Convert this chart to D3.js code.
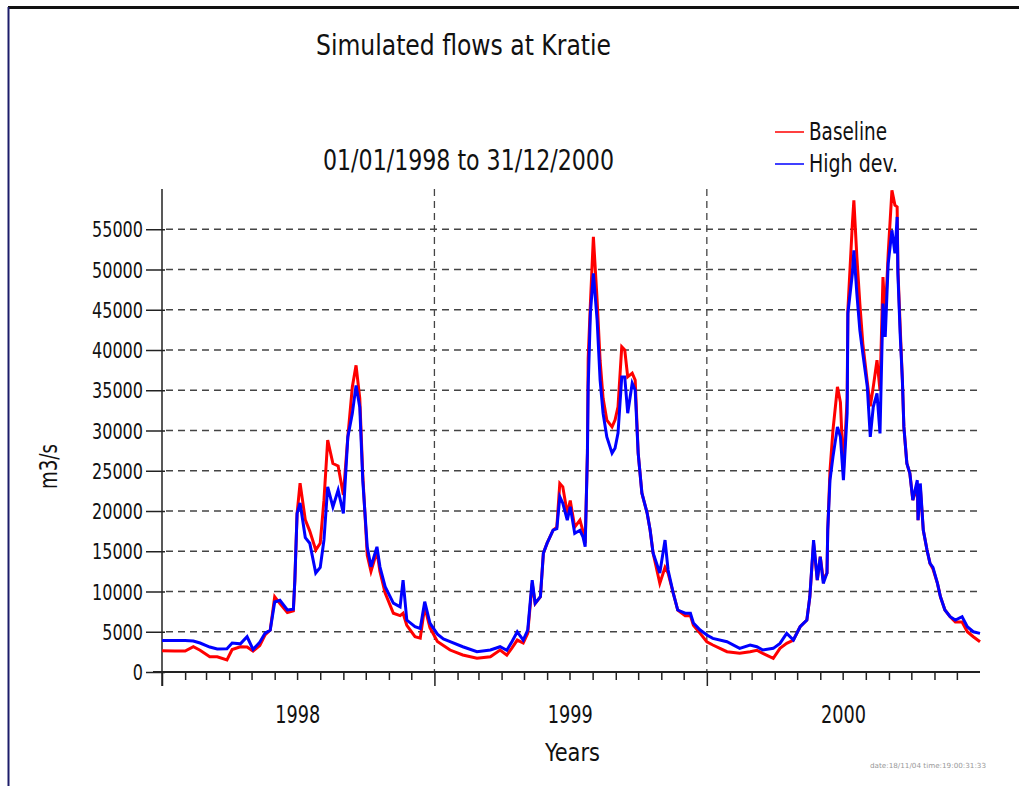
<!DOCTYPE html>
<html>
<head>
<meta charset="utf-8">
<script src="https://cdn.jsdelivr.net/npm/d3@7"></script>
<style>
  html, body { margin: 0; padding: 0; background: #fff; }
  svg { display: block; }
  .narrow { font-family: "Liberation Sans Narrow", "Arial Narrow", "DejaVu Sans Condensed", sans-serif; }
</style>
</head>
<body>
<svg id="chart" width="1019" height="786"></svg>
<script>
// ---- Data (days since 01/01/1998, flows in m3/s) ----
const days = [0, 17, 31, 42, 51, 64, 74, 87, 94, 105, 114, 122, 131, 138, 145, 151, 158, 168, 176, 178, 181, 185, 192, 198, 206, 212, 217, 222, 229, 236, 243, 249, 255, 260, 265, 269, 275, 280, 288, 292, 299, 310, 319, 323, 328, 339, 346, 352, 359, 369, 377,
  386, 403, 422, 440, 453, 462, 469, 476, 484, 490, 496, 500, 507, 511, 516, 524, 529, 533, 537, 543, 547, 553, 560, 564, 567, 570, 571, 574, 578, 583, 587, 591, 596, 603, 607, 611, 616, 620, 624, 630, 634, 638, 643, 650, 654, 658, 667, 674, 678, 685, 691, 701, 708, 712, 721, 730,
  738, 757, 774, 788, 797, 805, 819, 828, 837, 846, 855, 864, 868, 873, 878, 882, 886, 891, 892, 895, 899, 905, 909, 913, 918, 919, 925, 927, 931, 935, 939, 945, 949, 953, 958, 962, 966, 969, 973, 978, 982, 985, 986, 989, 992, 994, 998, 1002, 1006, 1012, 1013, 1016, 1020, 1025, 1029, 1033, 1039, 1043, 1049, 1056, 1063, 1072, 1079, 1087, 1096];

const baseline = [2650, 2600, 2600, 3140, 2700, 1900, 1900, 1500, 2800, 3140, 3100, 2600, 3300, 4600, 5200, 9350, 8500, 7400, 7600, 11400, 19700, 23460, 18900, 17500, 15150, 16000, 21350, 28800, 25900, 25600, 22000, 29200, 35400, 38100, 34000, 24500, 14500, 12500, 15000, 12500, 9800, 7300, 7000, 7300, 5800, 4380, 4200, 8100, 5500, 3800, 3300,
  2730, 2110, 1700, 1900, 2730, 2100, 3000, 3970, 3600, 4800, 11000, 8500, 9350, 14770, 16000, 17630, 18000, 23430, 23000, 19700, 21300, 18000, 18870, 17500, 16000, 27190, 38900, 45800, 54050, 46180, 38700, 34000, 31290, 30450, 31300, 32940, 40390, 40000, 36660, 37120, 36250, 27190, 22220, 19740, 17630, 14770, 11010, 13000, 12300, 9800, 7700, 7000, 7000, 5800, 4800, 3760,
  3350, 2520, 2320, 2520, 2700, 2320, 1700, 2940, 3560, 3970, 5620, 6450, 9350, 16000, 11420, 14310, 11500, 12300, 17630, 25000, 30040, 35420, 33500, 25000, 34000, 45000, 55700, 58600, 51560, 45770, 40800, 36000, 33000, 35420, 38730, 35000, 49070, 44000, 52000, 59840, 58000, 57770, 50000, 43000, 36250, 30450, 25910, 24670, 21350, 23000, 18870, 23000, 17630, 15150, 13490, 12800, 11010, 9350, 7700, 6870, 6200, 6200, 5000, 4380, 3760];

const highDev = [3900, 3900, 3900, 3850, 3600, 3100, 2850, 2900, 3600, 3500, 4380, 2800, 3700, 4800, 5200, 8700, 8900, 7700, 7800, 11400, 19700, 21000, 16700, 16000, 12300, 13000, 16400, 23000, 20500, 22600, 19700, 29200, 32100, 35600, 32900, 23800, 15550, 13070, 15550, 13070, 10600, 8550, 8100, 11400, 6450, 5620, 5400, 8730, 6080, 4700, 4100,
  3760, 3140, 2520, 2730, 3140, 2700, 3800, 5000, 3970, 5210, 11400, 8530, 9350, 14770, 16000, 17630, 17800, 21770, 20970, 18870, 20520, 17220, 17600, 16800, 15560, 27190, 35420, 44570, 49530, 43700, 36250, 32150, 29210, 27190, 27800, 29670, 36660, 36660, 32150, 35880, 35010, 27190, 22220, 19740, 17630, 14770, 12290, 16390, 12700, 9800, 7700, 7300, 7300, 6080, 5210, 4590,
  4180, 3760, 2940, 3350, 3140, 2730, 2940, 3560, 4800, 3970, 5620, 6450, 9350, 16390, 11420, 14310, 11010, 12300, 17630, 23830, 26730, 30450, 29200, 23830, 32150, 44570, 49490, 52390, 47000, 42460, 39570, 35420, 29210, 32940, 34600, 29630, 45770, 41630, 50740, 54870, 52000, 56530, 49530, 42050, 36250, 30450, 25910, 24670, 21350, 23830, 18870, 23420, 17630, 15150, 13490, 13000, 11010, 9350, 7700, 6870, 6450, 6870, 5620, 5000, 4800];

const seriesNames = ["Baseline", "High dev."];
const seriesColors = ["#ff0000", "#0000ff"];
const yearLabels = ["1998", "1999", "2000"];
const yTickValues = [0, 5000, 10000, 15000, 20000, 25000, 30000, 35000, 40000, 45000, 50000, 55000];
const titleText = "Simulated flows at Kratie";
const subtitleText = "01/01/1998 to 31/12/2000";
const yLabel = "m3/s";
const xLabel = "Years";
const stampText = "date:18/11/04  time:19:00:31:33";

// ---- Layout ----
const svg = d3.select("#chart");
const start = Date.UTC(1998, 0, 1);
const toDate = d => new Date(start + d * 86400000);
const x = d3.scaleUtc().domain([new Date(Date.UTC(1998,0,1)), new Date(Date.UTC(2001,0,1))]).range([162, 980]);
const y = d3.scaleLinear().domain([0, 60000]).range([672, 189]);
const FONT = '"Liberation Sans Narrow", "Arial Narrow", "DejaVu Sans Condensed", sans-serif';

// frame borders
svg.append("line").attr("x1", 8).attr("x2", 1019).attr("y1", 7.5).attr("y2", 7.5).attr("stroke", "#111").attr("stroke-width", 3);
svg.append("line").attr("x1", 8.5).attr("x2", 8.5).attr("y1", 7).attr("y2", 786).attr("stroke", "#1c1c6a").attr("stroke-width", 2);

// horizontal grid
const gridColor = "#444";
svg.append("g").selectAll("line").data(yTickValues.filter(v => v > 0)).join("line")
  .attr("x1", 166).attr("x2", 980)
  .attr("y1", d => y(d)).attr("y2", d => y(d))
  .attr("stroke", gridColor).attr("stroke-width", 1.3).attr("stroke-dasharray", "7,5");

// vertical year grid lines
const yearStarts = [1999, 2000].map(yr => new Date(Date.UTC(yr, 0, 1)));
svg.append("g").selectAll("line").data(yearStarts).join("line")
  .attr("x1", d => x(d)).attr("x2", d => x(d))
  .attr("y1", y(60000)).attr("y2", 672)
  .attr("stroke", gridColor).attr("stroke-width", 1.3).attr("stroke-dasharray", "7,5");

// y axis
const yAxis = d3.axisLeft(y).tickValues(yTickValues).tickSize(16).tickPadding(4).tickFormat(d3.format("d"));
const yg = svg.append("g").attr("transform", "translate(162,0)").call(yAxis);
yg.select(".domain").remove();
yg.selectAll(".tick line").attr("stroke", "#222").attr("stroke-width", 1.5).attr("x2", -16).attr("x1", 3);
yg.selectAll(".tick text").attr("font-size", 21).attr("fill", "#111")
  .attr("x", -19).attr("dy", "0.36em").style("font-family", FONT)
  .attr("textLength", d => String(d).length * 10.2).attr("lengthAdjust", "spacingAndGlyphs");
svg.append("line").attr("x1", 162).attr("x2", 162).attr("y1", y(60000)).attr("y2", 686)
  .attr("stroke", "#222").attr("stroke-width", 1.5);

// x axis: monthly minor ticks, yearly major ticks
const months = d3.utcMonth.range(new Date(Date.UTC(1998,0,1)), new Date(Date.UTC(2001,0,1)));
const xAxis = d3.axisBottom(x).tickValues(months).tickSize(8).tickFormat("");
const xg = svg.append("g").attr("transform", "translate(0,672)").call(xAxis);
xg.select(".domain").remove();
xg.selectAll(".tick line").attr("stroke", "#222").attr("stroke-width", 1.5)
  .attr("y2", d => d.getUTCMonth() === 0 ? 14 : 8);
svg.append("line").attr("x1", 153).attr("x2", 980).attr("y1", 672).attr("y2", 672)
  .attr("stroke", "#222").attr("stroke-width", 2);

// year labels (mid-year)
svg.append("g").selectAll("text").data(yearLabels).join("text")
  .style("font-family", FONT).attr("font-size", 25).attr("fill", "#111")
  .attr("text-anchor", "middle")
  .attr("x", d => x(new Date(Date.UTC(+d, 6, 2))))
  .attr("y", 723)
  .attr("textLength", 45).attr("lengthAdjust", "spacingAndGlyphs")
  .text(d => d);

// series lines
const series = [baseline, highDev];
const line = d3.line().x(d => x(toDate(d[0]))).y(d => y(d[1]));
series.forEach((vals, i) => {
  svg.append("path")
    .datum(days.map((d, j) => [d, vals[j]]))
    .attr("fill", "none")
    .attr("stroke", seriesColors[i])
    .attr("stroke-width", 3)
    .attr("stroke-linejoin", "miter")
    .attr("d", line);
});

// titles
svg.append("text").style("font-family", FONT).attr("font-size", 28).attr("fill", "#111")
  .attr("x", 316).attr("y", 55).attr("textLength", 295).attr("lengthAdjust", "spacingAndGlyphs").text(titleText);
svg.append("text").style("font-family", FONT).attr("font-size", 28).attr("fill", "#111")
  .attr("x", 323).attr("y", 170).attr("textLength", 291).attr("lengthAdjust", "spacingAndGlyphs").text(subtitleText);

// axis labels
svg.append("text").style("font-family", FONT).attr("font-size", 25).attr("fill", "#111")
  .attr("transform", "translate(57,489) rotate(-90)")
  .attr("textLength", 45).attr("lengthAdjust", "spacingAndGlyphs").text(yLabel);
svg.append("text").style("font-family", FONT).attr("font-size", 25).attr("fill", "#111")
  .attr("x", 545).attr("y", 761).attr("textLength", 55).attr("lengthAdjust", "spacingAndGlyphs").text(xLabel);

// legend
const legend = svg.append("g");
const legendWidths = [78, 89];
seriesNames.forEach((name, i) => {
  const ly = 132 + i * 32;
  legend.append("line").attr("x1", 775).attr("x2", 804).attr("y1", ly).attr("y2", ly)
    .attr("stroke", seriesColors[i]).attr("stroke-width", 1.5);
  legend.append("text").style("font-family", FONT).attr("font-size", 25).attr("fill", "#111")
    .attr("x", 809).attr("y", ly + 8)
    .attr("textLength", legendWidths[i]).attr("lengthAdjust", "spacingAndGlyphs").text(name);
});

// timestamp
svg.append("text").attr("font-family", "DejaVu Sans, sans-serif").attr("font-size", 7).attr("fill", "#999")
  .attr("x", 870).attr("y", 768).attr("textLength", 116).attr("lengthAdjust", "spacingAndGlyphs").text(stampText);
</script>
</body>
</html>
